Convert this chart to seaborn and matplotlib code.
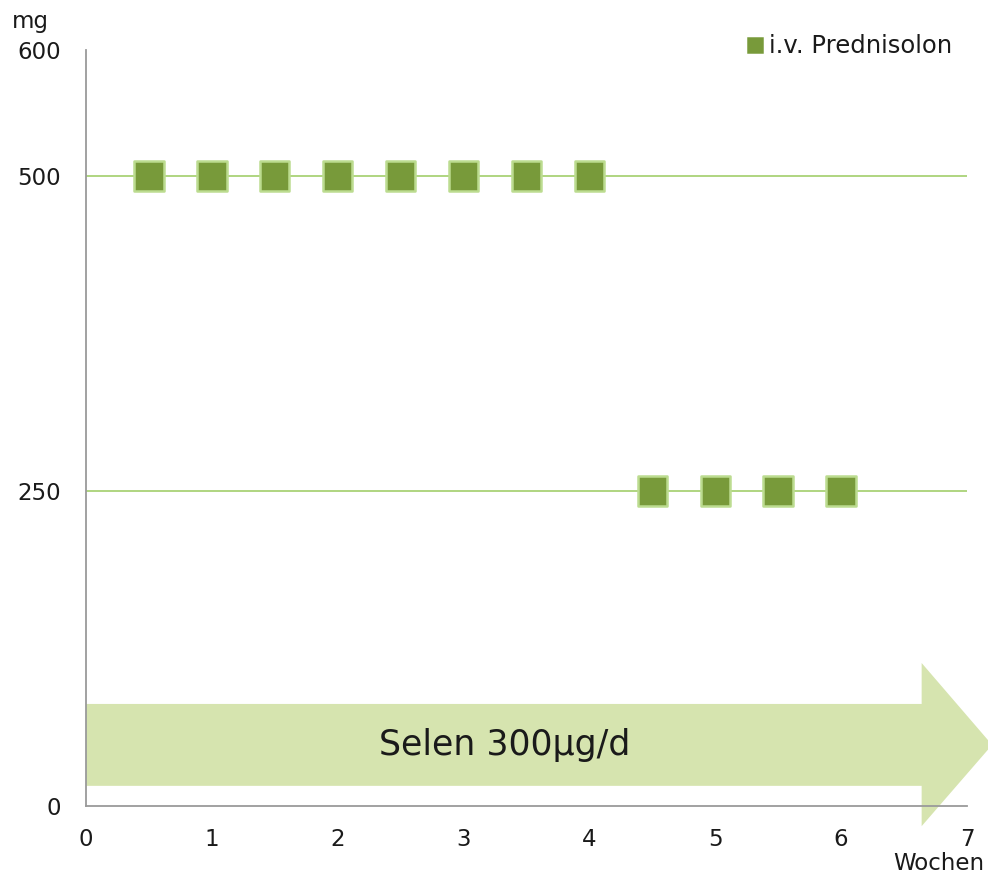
import matplotlib
matplotlib.use("Agg")
import matplotlib.pyplot as plt
from matplotlib.patches import Polygon
import pandas as pd
import seaborn as sns

# Dosing schedule: i.v. Prednisolon per week
weeks = [0.5, 1.0, 1.5, 2.0, 2.5, 3.0, 3.5, 4.0, 4.5, 5.0, 5.5, 6.0]
dose_mg = [500, 500, 500, 500, 500, 500, 500, 500, 250, 250, 250, 250]
series_name = "i.v. Prednisolon"
x_ticks = [0, 1, 2, 3, 4, 5, 6, 7]
y_ticks = [0, 250, 500, 600]
grid_levels = [250, 500]
selen_label = "Selen 300µg/d"

df = pd.DataFrame({"Woche": weeks, "mg": dose_mg, "Therapie": series_name})

sns.set_theme(style="white")
plt.rcParams["font.family"] = ["DejaVu Sans"]

fig = plt.figure(figsize=(9.88, 8.76), dpi=100)
ax = fig.add_axes([0.087, 0.0799, 0.8917, 0.863])

text_color = "#1a1a1a"
spine_color = "#9a9a9a"
marker_fill = "#789a3a"
marker_edge = "#bcdc90"
grid_color = "#a9d276"
arrow_color = "#d3e2a8"
fs = 16.5

# horizontal guide lines at the dose levels
for lvl in grid_levels:
    ax.axhline(lvl, color=grid_color, lw=1.3, zorder=1)

# selenium supplementation arrow spanning the whole period
band_lo, band_hi = 16, 81
head_lo, head_hi = -16, 113.5
head_base, tip = 6.64, 7.2
mid = (band_lo + band_hi) / 2
arrow = Polygon(
    [(0, band_lo), (head_base, band_lo), (head_base, head_lo), (tip, mid),
     (head_base, head_hi), (head_base, band_hi), (0, band_hi)],
    closed=True, facecolor=arrow_color, edgecolor="none", alpha=0.92,
    clip_on=False, zorder=0.5,
)
ax.add_patch(arrow)
ax.text(3.33, mid, selen_label, ha="center", va="center", fontsize=25,
        color=text_color, zorder=3)

sns.scatterplot(
    data=df, x="Woche", y="mg", hue="Therapie", palette=[marker_fill],
    marker="s", s=450, edgecolor=marker_edge, linewidth=1.8, ax=ax, zorder=4,
    clip_on=False,
)

ax.set_xlim(0, 7)
ax.set_ylim(0, 600)
ax.set_xticks(x_ticks)
ax.set_yticks(y_ticks)
ax.set_xlabel("")
ax.set_ylabel("")
ax.tick_params(axis="both", colors=spine_color, labelcolor=text_color,
               labelsize=fs, direction="out", length=6, width=1.2)
ax.tick_params(axis="x", pad=10)
ax.tick_params(axis="y", pad=12)
ax.yaxis.get_major_ticks()[-1].tick1line.set_visible(False)

for side in ["top", "right"]:
    ax.spines[side].set_visible(False)
for side in ["left", "bottom"]:
    ax.spines[side].set_color(spine_color)
    ax.spines[side].set_linewidth(1.3)
    ax.spines[side].set_zorder(2)

fig.text(0.012, 0.975, "mg", ha="left", va="center", fontsize=fs,
         color=text_color)
fig.text(0.904, 0.014, "Wochen", ha="left", va="center", fontsize=fs,
         color=text_color)

leg = ax.legend(loc="upper right", bbox_to_anchor=(1.0, 1.04), frameon=False,
                fontsize=17.5, handletextpad=-0.4, markerscale=0.47,
                borderaxespad=0.2)
for t in leg.get_texts():
    t.set_color(text_color)
for h in leg.legend_handles:
    if hasattr(h, "set_markeredgecolor"):
        h.set_markeredgecolor(marker_fill)
    elif hasattr(h, "set_edgecolor"):
        h.set_edgecolor(marker_fill)

fig.savefig("out.png", dpi=100, facecolor="white")
